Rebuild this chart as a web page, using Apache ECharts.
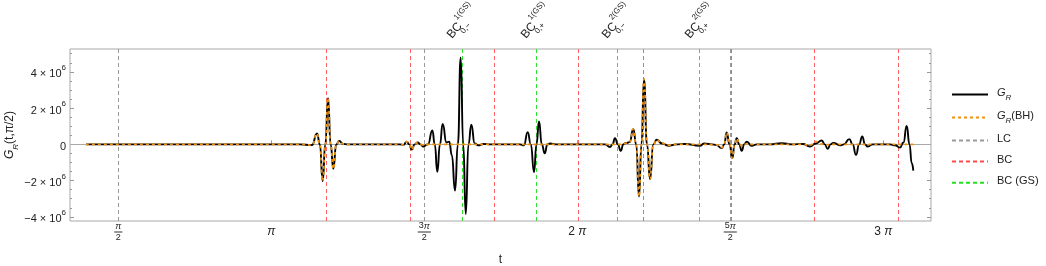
<!DOCTYPE html>
<html><head><meta charset="utf-8">
<script src="https://cdn.jsdelivr.net/npm/echarts@6/dist/echarts.min.js"></script>
<style>html,body{margin:0;padding:0;background:#fff}#c{width:1046px;height:266px}</style>
</head><body><div id="c"></div>
<script>
// ---- data (t in radians, G_R in units of 1e6) ----
const tBlack = [1.239, 3.436, 3.559, 3.611, 3.640, 3.669, 3.696, 3.724, 3.751, 3.778, 3.809, 3.840, 3.878, 3.929,
  4.463, 4.500, 4.532, 4.557, 4.583, 4.614, 4.645, 4.673, 4.702,
  4.750, 4.795, 4.820, 4.846, 4.873, 4.901, 4.940, 4.969, 4.995, 5.028, 5.057, 5.086, 5.112, 5.138, 5.166, 5.195, 5.230, 5.267, 5.320, 5.387,
  5.695, 5.735, 5.774, 5.806, 5.839, 5.864, 5.890, 5.919, 5.949, 5.976, 6.003, 6.065,
  6.568, 6.619, 6.645, 6.670, 6.700, 6.729, 6.756, 6.783, 6.820, 6.858, 6.888, 6.917, 6.942, 6.968, 6.999, 7.030, 7.064, 7.098, 7.153, 7.218, 7.300, 7.389,
  7.543, 7.584, 7.666, 7.707, 7.766, 7.792, 7.817, 7.846, 7.875, 7.898, 7.920, 7.946, 7.971, 7.997, 8.023, 8.074, 8.128, 8.262,
  8.382, 8.488, 8.600, 8.672, 8.734, 8.793, 8.824, 8.854, 8.883, 8.912, 8.980, 9.021, 9.076, 9.110, 9.145, 9.177, 9.209, 9.237, 9.265, 9.319, 9.494,
  9.545, 9.596, 9.632, 9.665, 9.694, 9.717, 9.733];
const gBlack = [0, 0, -0.04, 0.60, 0, -2.02, 0, 2.55, 0, -1.35, 0, 0.18, 0.02, 0,
  0, -0.03, 0.15, 0, -0.29, 0, 0.10, 0, -0.12,
  0, 0.76, 0, -1.52, 0, 1.12, 0.10, 0.15, -0.60, -2.55, 0, 4.80, 0, -3.84, 0, 1.08, 0.05, -0.06, 0.02, 0,
  0, -0.05, 0.67, 0, -1.54, 0, 1.26, 0, -0.49, 0, 0.05, 0,
  0, -0.15, 0, 0.34, 0, -0.36, 0, 0.07, 0.12, 0.84, 0, -2.88, 0, 3.60, 0, -1.92, 0, 0.25, 0.05, -0.08, 0, 0.02,
  -0.08, 0.05, 0, -0.03, -0.21, 0, 0.65, 0, -0.76, 0, 0.34, 0, -0.36, 0, 0.15, -0.08, 0, 0,
  0.06, 0, 0.02, -0.12, 0.05, 0.21, 0, -0.25, 0, 0.08, -0.05, 0, 0.29, 0, -0.58, 0, 0.43, 0, -0.12, 0, 0,
  -0.05, -0.18, 0.10, 1.02, 0, -1.04, -1.45];
const tBH = [1.239, 3.436, 3.559, 3.611, 3.640, 3.669, 3.696, 3.724, 3.751, 3.778, 3.809, 3.840, 3.878, 3.929,
  4.463, 4.500, 4.532, 4.557, 4.583, 4.614, 4.645, 4.673, 4.702, 4.750,
  6.700, 6.756, 6.783, 6.820, 6.858, 6.888, 6.917, 6.942, 6.968, 6.999, 7.030, 7.064, 7.098, 7.153, 7.218, 7.300,
  7.543, 7.707, 7.766, 7.792, 7.817, 7.846, 7.875, 7.898, 7.920, 7.946, 7.971, 8.023, 8.074,
  8.600, 8.672, 8.734, 8.793, 8.854, 8.912, 9.733];
const gBH = [0, 0, -0.04, 0.60, 0, -2.02, 0, 2.55, 0, -1.35, 0, 0.18, 0.02, 0,
  0, -0.03, 0.15, 0, -0.29, 0, 0.10, 0, -0.05, 0,
  0, 0.02, 0.07, 0.12, 0.84, 0, -2.88, 0, 3.60, 0, -1.92, 0, 0.25, 0.05, -0.05, 0,
  0, -0.02, -0.18, 0, 0.65, 0, -0.76, 0, 0.34, 0.05, -0.10, 0.03, 0,
  0, -0.06, 0.15, 0.02, -0.02, 0, 0];

const lcLines = [Math.PI / 2, 3 * Math.PI / 2, 5 * Math.PI / 2];
const bcLines = [3.710, 4.573, 5.431, 6.287, 6.965, 7.861, 8.724, 9.579];
const bcgsLines = [5.099, 5.859, 6.691, 7.543];
const bcgsSub = ['0,−', '0,+', '0,−', '0,+'];
const bcgsSup = ['1(GS)', '1(GS)', '2(GS)', '2(GS)'];

const xTickValues = [Math.PI / 2, Math.PI, 3 * Math.PI / 2, 2 * Math.PI, 5 * Math.PI / 2, 3 * Math.PI];
const xTickLabels = ['π/2', 'π', '3π/2', '2 π', '5π/2', '3 π'];
const yTickValues = [-4e6, -2e6, 0, 2e6, 4e6];
const yTickLabels = ['−4 × 10^6', '−2 × 10^6', '0', '2 × 10^6', '4 × 10^6'];
const yMinorTicks = [-4e6, -3.5e6, -3e6, -2.5e6, -2e6, -1.5e6, -1e6, -0.5e6, 0, 0.5e6, 1e6, 1.5e6, 2e6, 2.5e6, 3e6, 3.5e6, 4e6, 4.5e6, 5e6];
const xMin = 1.0748, xMax = 9.9147, yMin = -4.23e6, yMax = 5.26e6;
const SCALE = 1e6;

// ---- helpers ----
const FONT = 'Liberation Sans';
const INK = '#222';
function nearest(arr, v) { let b = 0; arr.forEach((a, i) => { if (Math.abs(a - v) < Math.abs(arr[b] - v)) b = i; }); return b; }
function piTok(s, base, pi) {
  return s.split('π').map(p => p ? '{' + base + '|' + p + '}' : '').join('{' + pi + '|π}');
}
function fmtX(v) {
  const s = xTickLabels[nearest(xTickValues, v)];
  if (s.indexOf('/') >= 0) {
    const [n, d] = s.split('/');
    return piTok(n, 'n', 'np') + '\n{' + (n.length > 1 ? 'hr2' : 'hr1') + '|}\n{n|' + d + '}';
  }
  return piTok(s, 'm', 'mp');
}
function fmtY(v) {
  const s = yTickLabels[nearest(yTickValues, v)];
  if (s.indexOf('^') >= 0) { const [a, b] = s.split('^'); return '{t|' + a + '}{sup|' + b + '}'; }
  return '{t|' + s + '}';
}
function fmtTop(v) {
  const i = nearest(bcgsLines, v);
  return '{b|BC}{sub|' + bcgsSub[i] + '}{sup|' + bcgsSup[i] + '}';
}

const blackData = tBlack.map((t, i) => [t, gBlack[i] * SCALE]);
const bhData = tBH.map((t, i) => [t, gBH[i] * SCALE]);

const tickColor = '#999';
function yAx(pos, values, len, labels) {
  return {
    type: 'value', position: pos, min: yMin, max: yMax,
    axisLine: { show: false }, splitLine: { show: false },
    axisTick: { show: true, inside: true, length: len, customValues: values, lineStyle: { color: tickColor } },
    axisLabel: labels ? {
      show: true, customValues: yTickValues, formatter: fmtY, margin: 4, color: INK, fontFamily: FONT,
      rich: { t: { fontSize: 11, fontFamily: FONT, color: INK, lineHeight: 16, verticalAlign: 'bottom' },
              sup: { fontSize: 8, fontFamily: FONT, color: INK, lineHeight: 16, verticalAlign: 'top' } }
    } : { show: false }
  };
}

const chart = echarts.init(document.getElementById('c'), null, { renderer: 'canvas' });
chart.setOption({
  animation: false,
  backgroundColor: '#fff',
  grid: { left: 70, right: 115, top: 49, bottom: 45, containLabel: false, outerBoundsMode: 'none',
    show: true, borderColor: '#a8a8a8', borderWidth: 1, backgroundColor: 'transparent' },
  legend: {
    orient: 'vertical', left: 946, top: 82, itemWidth: 36, itemHeight: 14, itemGap: 8,
    itemStyle: { opacity: 0 },
    data: ['G_R', 'G_R(BH)', 'LC', 'BC', 'BC (GS)'],
    formatter: name => name === 'G_R' ? '{i|G}{s|R}' : (name === 'G_R(BH)' ? '{i|G}{s|R}{r|(BH)}' : '{r|' + name + '}'),
    textStyle: {
      fontFamily: FONT, fontSize: 11, color: INK, padding: [0, 0, 0, 4],
      rich: {
        i: { fontFamily: FONT, fontSize: 11, fontStyle: 'italic', color: INK, lineHeight: 15, verticalAlign: 'top' },
        s: { fontFamily: FONT, fontSize: 8, fontStyle: 'italic', color: INK, lineHeight: 15, verticalAlign: 'bottom' },
        r: { fontFamily: FONT, fontSize: 11, color: INK, lineHeight: 15, verticalAlign: 'top' }
      }
    }
  },
  xAxis: [{
    type: 'value', min: xMin, max: xMax, position: 'bottom',
    name: 't', nameLocation: 'middle', nameGap: 33, nameMoveOverlap: false,
    nameTextStyle: { fontFamily: FONT, fontSize: 12, color: INK },
    axisLine: { show: false }, splitLine: { show: false },
    axisTick: { show: true, inside: true, length: 4, customValues: xTickValues, lineStyle: { color: tickColor } },
    axisLabel: {
      customValues: xTickValues, formatter: fmtX, margin: 11, verticalAlign: 'middle', color: INK,
      rich: {
        n: { fontFamily: FONT, fontSize: 9, lineHeight: 9, color: INK, align: 'center' },
        np: { fontFamily: FONT, fontSize: 9, lineHeight: 9, color: INK, fontStyle: 'italic', align: 'center' },
        hr1: { width: 8, height: 0, borderColor: '#333', borderWidth: 0.6, lineHeight: 3, align: 'center' },
        hr2: { width: 13, height: 0, borderColor: '#333', borderWidth: 0.6, lineHeight: 3, align: 'center' },
        m: { fontFamily: FONT, fontSize: 12, color: INK },
        mp: { fontFamily: FONT, fontSize: 12, color: INK, fontStyle: 'italic' }
      }
    }
  }, {
    type: 'value', min: xMin, max: xMax, position: 'top',
    axisLine: { show: false }, splitLine: { show: false }, axisTick: { show: false },
    axisLabel: {
      customValues: bcgsLines, formatter: fmtTop, rotate: 50, align: 'center', verticalAlign: 'middle', margin: 27,
      rich: {
        b: { fontFamily: FONT, fontSize: 12, color: INK, lineHeight: 22, verticalAlign: 'middle' },
        sub: { fontFamily: FONT, fontSize: 8, color: INK, lineHeight: 22, verticalAlign: 'bottom', width: 1 },
        sup: { fontFamily: FONT, fontSize: 8, color: INK, lineHeight: 22, verticalAlign: 'top' }
      }
    }
  }],
  yAxis: [
    Object.assign(yAx('left', yTickValues, 4, true), {
      name: '{i|G}{s|R}{r|(t,π/2)}', nameLocation: 'middle', nameGap: 50, nameRotate: 90, nameMoveOverlap: false,
      nameTextStyle: {
        fontFamily: FONT, fontSize: 12, color: INK,
        rich: {
          i: { fontFamily: FONT, fontSize: 12, fontStyle: 'italic', color: INK, lineHeight: 16, verticalAlign: 'top' },
          s: { fontFamily: FONT, fontSize: 8, fontStyle: 'italic', color: INK, lineHeight: 16, verticalAlign: 'bottom' },
          r: { fontFamily: FONT, fontSize: 12, color: INK, lineHeight: 16, verticalAlign: 'top' }
        }
      }
    }),
    yAx('left', yMinorTicks, 2, false),
    yAx('right', yTickValues, 4, false),
    yAx('right', yMinorTicks, 2, false)
  ],
  series: [
    { name: 'zero', type: 'line', data: [], silent: true,
      markLine: { silent: true, symbol: ['none', 'none'], label: { show: false }, animation: false,
        lineStyle: { color: '#a8a8a8', type: 'solid', width: 1 }, data: [{ yAxis: 0 }] } },
    { name: 'LC', type: 'line', data: [], symbol: 'none', itemStyle: { color: '#9a9a9a' },
      lineStyle: { color: '#9a9a9a', type: [4, 3], width: 1 },
      markLine: { silent: true, symbol: ['none', 'none'], label: { show: false }, animation: false,
        lineStyle: { color: '#9a9a9a', type: [4, 3], width: 1 }, data: lcLines.map(v => ({ xAxis: v })) } },
    { name: 'BC', type: 'line', data: [], symbol: 'none', itemStyle: { color: '#ff4a4a' },
      lineStyle: { color: '#ff4a4a', type: [4, 3], width: 1 },
      markLine: { silent: true, symbol: ['none', 'none'], label: { show: false }, animation: false,
        lineStyle: { color: '#ff6262', type: [4, 3], width: 1 }, data: bcLines.map(v => ({ xAxis: v })) } },
    { name: 'BC (GS)', type: 'line', data: [], symbol: 'none', itemStyle: { color: '#22e022' },
      lineStyle: { color: '#22e022', type: [4, 3], width: 1 },
      markLine: { silent: true, symbol: ['none', 'none'], label: { show: false }, animation: false,
        lineStyle: { color: '#33e033', type: [4, 3], width: 1 }, data: bcgsLines.map(v => ({ xAxis: v })) } },
    { name: 'G_R', type: 'line', data: blackData, symbol: 'none', showSymbol: false, smooth: 0.55, smoothMonotone: 'x',
      itemStyle: { color: '#000' }, lineStyle: { color: '#000', width: 1.9 }, z: 5 },
    { name: 'G_R(BH)', type: 'line', data: bhData, symbol: 'none', showSymbol: false, smooth: 0.55, smoothMonotone: 'x',
      itemStyle: { color: '#f0900f' }, lineStyle: { color: '#f0900f', width: 1.8, type: [3, 3] }, z: 6 }
  ]
});
</script>
</body></html>
